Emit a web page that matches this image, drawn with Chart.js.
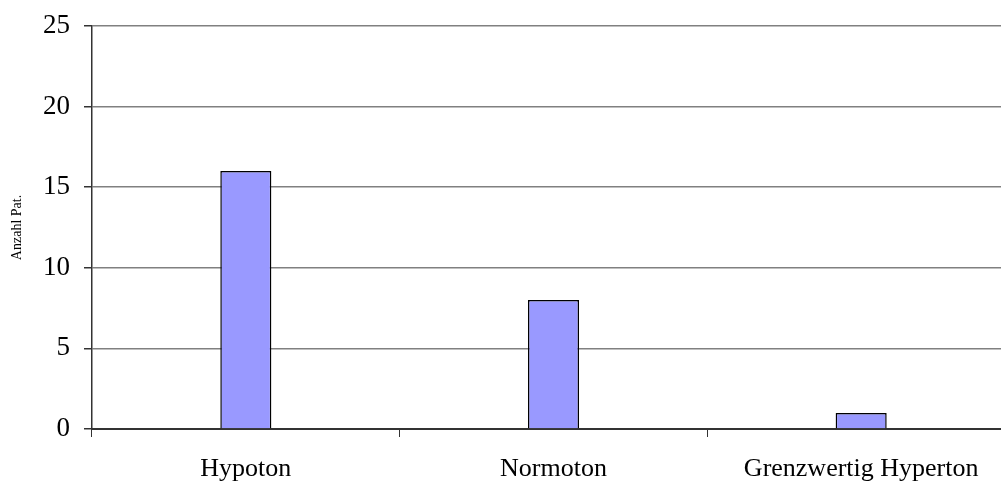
<!DOCTYPE html>
<html>
<head>
<meta charset="utf-8">
<script src="https://cdn.jsdelivr.net/npm/chart.js@4"></script>
<style>
  html, body { margin: 0; padding: 0; background: #fff; overflow: hidden; }
  #wrap { width: 1001px; height: 482px; overflow: hidden; }
</style>
</head>
<body>
<div id="wrap"><canvas id="myChart" width="1015" height="482"></canvas></div>
<script>
const categories = ['Hypoton', 'Normoton', 'Grenzwertig Hyperton'];
const values = [16, 8, 1]; // Anzahl Pat.
const yTicks = [0, 5, 10, 15, 20, 25];

const serif = '"Liberation Serif", "Times New Roman", serif';

const ctx = document.getElementById('myChart').getContext('2d');
new Chart(ctx, {
    type: 'bar',
    data: {
        labels: categories,
        datasets: [{
            label: 'Anzahl Pat.',
            data: values,
            backgroundColor: '#9999ff',
            borderColor: '#000000',
            borderWidth: 1.5,
            categoryPercentage: 1,
            barPercentage: 0.166
        }]
    },
    options: {
        responsive: false,
        animation: false,
        layout: { padding: { top: 26, left: 0, right: 0, bottom: 0 } },
        plugins: {
            legend: { display: false },
            tooltip: { enabled: false }
        },
        scales: {
            x: {
                offset: true,
                grid: {
                    offset: true,
                    drawOnChartArea: false,
                    tickLength: 8,
                    tickColor: '#333333',
                    lineWidth: 1
                },
                border: { color: '#333333', width: 2 },
                ticks: {
                    color: '#000',
                    padding: 17,
                    font: { family: serif, size: 26 }
                },
                afterFit: scale => { scale.height = 53; }
            },
            y: {
                min: 0,
                max: 25,
                afterBuildTicks: scale => { scale.ticks = yTicks.map(v => ({ value: v })); },
                grid: {
                    color: '#808080',
                    lineWidth: 1.5,
                    tickLength: 8,
                    tickColor: '#333333'
                },
                border: { color: '#333333', width: 1.5 },
                ticks: {
                    color: '#000',
                    padding: 14,
                    font: { family: serif, size: 27 }
                },
                title: {
                    display: true,
                    text: 'Anzahl Pat.',
                    color: '#000',
                    padding: { top: 9, bottom: 0 },
                    font: { family: serif, size: 14 }
                },
                afterFit: scale => {
                    scale.width = 92;
                    scale.paddingTop = 0;
                    scale.paddingBottom = 0;
                }
            }
        }
    }
});
</script>
</body>
</html>
